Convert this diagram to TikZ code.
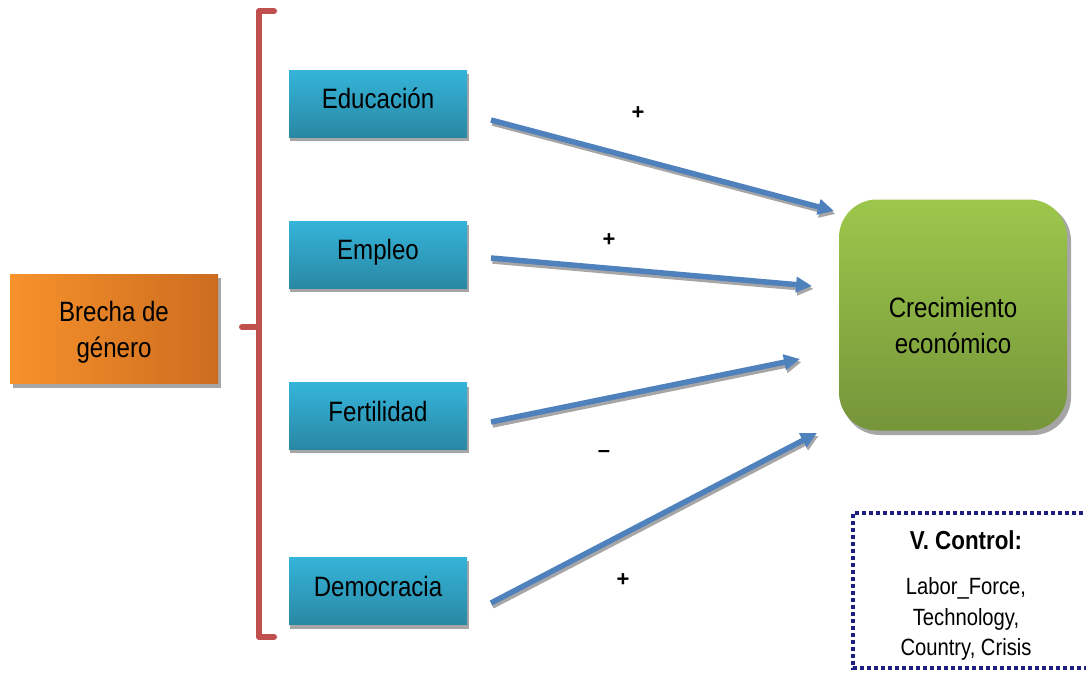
\documentclass[tikz,border=0pt]{standalone}
\usepackage{fontspec}
\setmainfont{Liberation Sans}
\newfontfamily\narrowsans[FakeStretch=0.86]{Liberation Sans}
\usetikzlibrary{arrows.meta}
\definecolor{orangeL}{HTML}{F7922B}
\definecolor{orangeR}{HTML}{CC6C1F}
\definecolor{blueT}{HTML}{35B4DA}
\definecolor{blueB}{HTML}{2988A4}
\definecolor{greenT}{HTML}{9CC74B}
\definecolor{greenB}{HTML}{76953A}
\definecolor{arrowblue}{HTML}{4F81BD}
\definecolor{bracketred}{HTML}{C0504D}
\definecolor{navy}{HTML}{1F1F80}
\definecolor{shadowgray}{HTML}{A6A6A6}
\tikzset{
  txt/.style={font=\narrowsans\fontsize{28}{36}\selectfont, align=center, text=black},
  factorbox/.style={rectangle, minimum width=178pt, minimum height=67pt, inner sep=0pt,
    text height=20pt, text depth=10pt,
    top color=blueT, bottom color=blueB, txt},
  boxshadow/.style={fill=shadowgray, draw=none},
  link/.style={line width=5.5pt, arrowblue, -{Triangle[length=16pt,width=15pt]}},
  linkshadow/.style={line width=5.5pt, shadowgray, -{Triangle[length=16pt,width=15pt]}},
  sign/.style={font=\fontsize{22}{24}\selectfont\bfseries},
}
\begin{document}
\begin{tikzpicture}[x=1pt,y=-1pt]
\useasboundingbox (0,0) rectangle (1086,672);

% shadows of the boxes
\fill[boxshadow] (13,278) rectangle (221,388);
\foreach \yt/\yb in {70/137, 221/288, 383/449, 557/625}
  \fill[boxshadow] (290,\yt+4) rectangle (469,\yb+4);
\fill[boxshadow, rounded corners=38pt] (842,203) rectangle (1071,435);

% source box
\node[rectangle, minimum width=208pt, minimum height=109pt, inner sep=0pt,
      left color=orangeL, right color=orangeR] (brecha) at (114,329) {};
\node[txt] (brechatext) at (114,332) {Brecha de\\género};

% bracket
\draw[bracketred, line width=6pt, line cap=round, line join=round]
  (274,11) -- (259,11) -- (259,637) -- (274,637);
\draw[bracketred, line width=6pt, line cap=round] (259,327) -- (242,327);

% factor boxes
\node[factorbox] (edu)  at (378,103.5) {Educación};
\node[factorbox] (emp)  at (378,254.5) {Empleo};
\node[factorbox] (fert) at (378,416)   {Fertilidad};
\node[factorbox] (dem)  at (378,591)   {Democracia};

% outcome box
\node[rectangle, rounded corners=38pt, minimum width=228pt, minimum height=231pt, inner sep=0pt,
      top color=greenT, bottom color=greenB] (crec) at (953,315) {};
\node[txt] (crectext) at (953,325) {Crecimiento\\económico};

% arrow end points
\coordinate (s1) at (491,120); \coordinate (t1) at (834,211);
\coordinate (s2) at (491,258); \coordinate (t2) at (812,286);
\coordinate (s3) at (491,422); \coordinate (t3) at (800,359);
\coordinate (s4) at (491,603); \coordinate (t4) at (817,433);

% arrow shadows
\foreach \a/\b in {s1/t1, s2/t2, s3/t3, s4/t4}
  \draw[linkshadow] ([shift={(1.5,3)}]\a) -- ([shift={(1.5,3)}]\b);
% arrows
\foreach \a/\b in {s1/t1, s2/t2, s3/t3, s4/t4}
  \draw[link] (\a) -- (\b);

% signs
\node[sign] (p1) at (638,113) {+};
\node[sign] (p2) at (609,240) {+};
\node[sign] (m3) at (604,454) {--};
\node[sign] (p4) at (623,580) {+};

% control variables
\draw[navy, line width=3.6pt, dash pattern=on 3.6pt off 3.4pt]
  (1090,513) -- (853,513) -- (853,668) -- (1090,668);
\node[font=\narrowsans\fontsize{26}{30}\selectfont\bfseries] (ctrl) at (966,540) {V. Control:};
\node[font=\narrowsans\fontsize{23.5}{30.5}\selectfont, align=center, anchor=north] (vars) at (966,574)
  {Labor\_Force,\\Technology,\\Country, Crisis};
\end{tikzpicture}
\end{document}
